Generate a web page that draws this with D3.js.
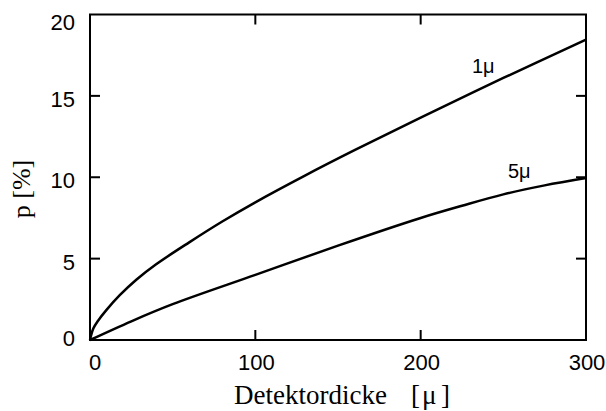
<!DOCTYPE html>
<html>
<head>
<meta charset="utf-8">
<script src="https://cdn.jsdelivr.net/npm/d3@7"></script>
<style>
  html, body { margin: 0; padding: 0; background: #fff; }
  svg { display: block; }
</style>
</head>
<body>
<svg id="chart" width="606" height="411"></svg>
<script>
// ---- data ----
const thickness1 = [0, 2, 5, 10, 18, 28, 40, 60, 80, 100, 130, 160, 200, 250, 300];
const p1mu       = [0, 0.7, 1.2, 1.85, 2.75, 3.7, 4.65, 6.0, 7.28, 8.46, 10.1, 11.66, 13.66, 16.1, 18.45];
const thickness5 = [0, 25, 50, 100, 150, 200, 225, 250, 275, 300];
const p5mu       = [0, 1.15, 2.2, 4.0, 5.8, 7.5, 8.25, 8.95, 9.5, 9.95];
const xTicks = [0, 100, 200, 300];
const yTicks = [0, 5, 10, 15, 20];
const seriesLabels = ["1\u03bc", "5\u03bc"];

(function () {
const svg = d3.select("#chart");
const mLeft = 90, mRight = 586, mTop = 14.5, mBottom = 340;
const x = d3.scaleLinear().domain([0, 300]).range([mLeft, mRight]);
const y = d3.scaleLinear().domain([0, 20]).range([mBottom, mTop]);

// frame
svg.append("rect")
  .attr("x", mLeft).attr("y", mTop)
  .attr("width", mRight - mLeft).attr("height", mBottom - mTop)
  .attr("fill", "none").attr("stroke", "#000").attr("stroke-width", 2);

const tickLen = 10;
const innerY = yTicks.filter(d => d > 0 && d < 20);
const innerX = xTicks.filter(d => d > 0 && d < 300);

// inward ticks on all four sides
const tk = svg.append("g").attr("stroke", "#000").attr("stroke-width", 2);
innerY.forEach(d => {
  tk.append("line").attr("x1", mLeft).attr("x2", mLeft + tickLen).attr("y1", y(d)).attr("y2", y(d));
  tk.append("line").attr("x1", mRight).attr("x2", mRight - tickLen).attr("y1", y(d)).attr("y2", y(d));
});
innerX.forEach(d => {
  tk.append("line").attr("x1", x(d)).attr("x2", x(d)).attr("y1", mBottom).attr("y2", mBottom - tickLen);
  tk.append("line").attr("x1", x(d)).attr("x2", x(d)).attr("y1", mTop).attr("y2", mTop + tickLen);
});

// tick labels
const sans = "'Liberation Sans', Arial, sans-serif";
const serif = "'Liberation Serif', 'Times New Roman', serif";
svg.append("g").selectAll("text").data(yTicks).join("text")
  .attr("x", 75).attr("y", d => y(d) + (d === 0 ? 6 : (d === 20 ? 15 : 11)))
  .attr("text-anchor", "end")
  .attr("font-family", sans).attr("font-size", 22)
  .text(d => d);
svg.append("g").selectAll("text").data(xTicks).join("text")
  .attr("x", d => x(d) + (d === 0 ? 5 : 1)).attr("y", 370)
  .attr("text-anchor", "middle")
  .attr("font-family", sans).attr("font-size", 22)
  .text(d => d);

// axis titles
svg.append("text")
  .attr("transform", "translate(30,189) rotate(-90)")
  .attr("text-anchor", "middle")
  .attr("font-family", serif).attr("font-size", 26)
  .text("p [%]");
const xt = svg.append("text")
  .attr("x", 234).attr("y", 404)
  .attr("font-family", serif).attr("font-size", 27);
xt.append("tspan").text("Detektordicke");
xt.append("tspan").attr("x", 411).text("[");
xt.append("tspan").attr("x", 422).text("\u03bc");
xt.append("tspan").attr("x", 441).text("]");

// curves
const line = d3.line().x(d => x(d[0])).y(d => y(d[1])).curve(d3.curveCatmullRom.alpha(0.5));
const s1 = thickness1.map((t, i) => [t, p1mu[i]]);
const s5 = thickness5.map((t, i) => [t, p5mu[i]]);
svg.append("path").attr("d", line(s1)).attr("fill", "none").attr("stroke", "#000").attr("stroke-width", 2.5);
svg.append("path").attr("d", line(s5)).attr("fill", "none").attr("stroke", "#000").attr("stroke-width", 2.5);

// series labels
svg.append("text").attr("x", 472).attr("y", 73)
  .attr("font-family", sans).attr("font-size", 20).text(seriesLabels[0]);
svg.append("text").attr("x", 508).attr("y", 178)
  .attr("font-family", sans).attr("font-size", 20).text(seriesLabels[1]);
})();
</script>
</body>
</html>
